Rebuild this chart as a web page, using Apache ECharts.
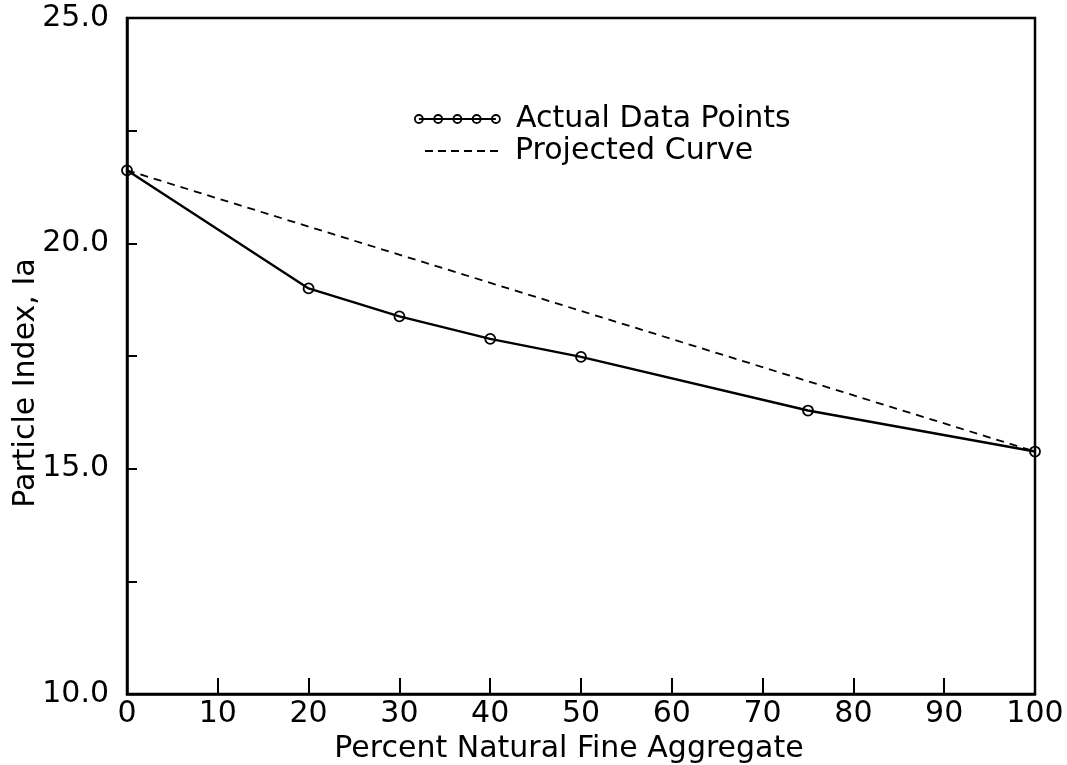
<!DOCTYPE html>
<html>
<head>
<meta charset="utf-8">
<script src="https://cdn.jsdelivr.net/npm/echarts@6/dist/echarts.min.js"></script>
<style>html,body{margin:0;padding:0;background:#fff;}#c{width:1067px;height:765px;}</style>
</head>
<body>
<div id="c"></div>
<script>
var percentNFA = [0, 20, 30, 40, 50, 75, 100];
var particleIndex = [21.62, 19.0, 18.38, 17.88, 17.48, 16.29, 15.38];
var projectedX = [0, 100];
var projectedY = [21.62, 15.38];
var seriesNames = ['Actual Data Points', 'Projected Curve'];
var xTitle = 'Percent Natural Fine Aggregate';
var yTitle = 'Particle Index, Ia';

var FONT = 'DejaVu Sans';
function pairs(xs, ys) { return xs.map(function (x, i) { return [x, ys[i]]; }); }

// legend icon: line with five open circles
var circleIcon = 'path://M4,4 L81,4';
[4, 23.25, 42.5, 61.75, 81].forEach(function (cx) {
  circleIcon += ' M' + (cx - 4) + ',4 A4,4 0 1,0 ' + (cx + 4) + ',4 A4,4 0 1,0 ' + (cx - 4) + ',4';
});
// legend icon: six short dashes
var dashIcon = 'path://';
[0, 13, 26, 39, 52, 65].forEach(function (x0) {
  dashIcon += 'M' + x0 + ',0 L' + (x0 + 8) + ',0 L' + (x0 + 8) + ',2 L' + x0 + ',2 Z ';
});

var chart = echarts.init(document.getElementById('c'), null, { renderer: 'canvas' });
chart.setOption({
  backgroundColor: '#fff',
  animation: false,
  textStyle: { fontFamily: FONT, color: '#000' },
  grid: {
    left: 127, right: 32, top: 18, bottom: 71, containLabel: false, outerBoundsMode: 'none',
    show: true, borderColor: '#000', borderWidth: 2.5, backgroundColor: 'transparent'
  },
  legend: [
    {
      data: [{ name: seriesNames[0], icon: circleIcon }],
      left: 414, top: 104, padding: 0, itemWidth: 85, itemHeight: 8,
      itemStyle: { color: 'transparent', borderColor: '#000', borderWidth: 1.8 },
      textStyle: { fontFamily: FONT, fontSize: 30, color: '#000', padding: [0, 0, 0, 11] },
      selectedMode: false
    },
    {
      data: [{ name: seriesNames[1], icon: dashIcon }],
      left: 425, top: 136, padding: 0, itemWidth: 73, itemHeight: 2,
      itemStyle: { color: '#000', borderWidth: 0 },
      lineStyle: { width: 0, opacity: 0 },
      textStyle: { fontFamily: FONT, fontSize: 30, color: '#000', padding: [0, 0, 0, 12] },
      selectedMode: false
    }
  ],
  xAxis: {
    type: 'value', min: 0, max: 100, interval: 10,
    name: xTitle, nameLocation: 'middle', nameGap: 29,
    nameTextStyle: { fontFamily: FONT, fontSize: 30, color: '#000', padding: [0, 24, 0, 0] },
    axisLine: { show: true, lineStyle: { color: '#000', width: 2.5 } },
    axisTick: { show: true, inside: true, length: 16, lineStyle: { color: '#000', width: 2 } },
    axisLabel: { fontFamily: FONT, fontSize: 30, color: '#000', margin: 5 },
    splitLine: { show: false }
  },
  yAxis: {
    type: 'value', min: 10, max: 25, interval: 2.5,
    name: yTitle, nameLocation: 'middle', nameGap: 86, nameRotate: 90, nameMoveOverlap: false,
    nameTextStyle: { fontFamily: FONT, fontSize: 30, color: '#000', padding: [0, 54, 0, 0] },
    axisLine: { show: true, lineStyle: { color: '#000', width: 2.5 } },
    axisTick: { show: true, inside: true, length: 10, lineStyle: { color: '#000', width: 2 } },
    axisLabel: {
      fontFamily: FONT, fontSize: 30, color: '#000', margin: 18,
      formatter: function (v) { return (v % 5 === 0) ? v.toFixed(1) : ''; }
    },
    splitLine: { show: false }
  },
  series: [
    {
      name: seriesNames[0], type: 'line', data: pairs(percentNFA, particleIndex),
      symbol: 'circle', symbolSize: 10, showSymbol: true,
      lineStyle: { color: '#000', width: 2.4 },
      itemStyle: { color: 'transparent', borderColor: '#000', borderWidth: 1.8 },
      z: 3
    },
    {
      name: seriesNames[1], type: 'line', data: pairs(projectedX, projectedY),
      symbol: 'none',
      lineStyle: { color: '#000', width: 1.8, type: [8, 6] },
      itemStyle: { color: '#000' },
      z: 2
    }
  ]
});
</script>
</body>
</html>
